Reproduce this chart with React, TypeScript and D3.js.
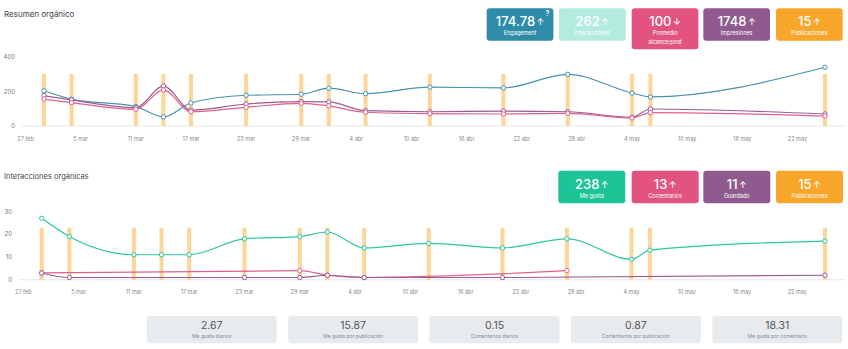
import React from "react";
import * as d3 from "d3";

const pubDates = ["2023-03-01","2023-03-04","2023-03-11","2023-03-14","2023-03-17","2023-03-23","2023-03-29","2023-04-01","2023-04-05","2023-04-12","2023-04-20","2023-04-27","2023-05-04","2023-05-06","2023-05-25"];
const tickDates = ["2023-02-27","2023-03-05","2023-03-11","2023-03-17","2023-03-23","2023-03-29","2023-04-04","2023-04-10","2023-04-16","2023-04-22","2023-04-28","2023-05-04","2023-05-10","2023-05-16","2023-05-22"];
const monthNames = ["ene","feb","mar","abr","may","jun","jul","ago","sep","oct","nov","dic"];

const engagement = [205,156,113,53,134,179,185,220,188,226,222,301,192,169,342];
const impresiones = [177,152,107,233,93,128,142,140,89,83,87,83,51,99,70];
const alcance = [157,136,97,210,83,109,132,117,80,72,70,74,47,78,58];
const publicaciones = [1,1,1,1,1,1,1,1,1,1,1,1,1,1,1];

const meGusta = [27,19,11,11,11,18,19,21,14,16,14,18,9,13,17];
const comentarios: (number|null)[] = [3,null,null,null,null,null,4,2,1,null,null,4,null,null,null];
const guardado: (number|null)[] = [3,1,null,null,null,1,1,2,1,null,1,null,null,null,2];

const topTicks = [0,200,400];
const botTicks = [0,10,20,30];

const topKpis = [
  { value: "174.78", arrow: "↑", label: ["Engagement"], color: "#2e8ca8", q: true },
  { value: "262", arrow: "↑", label: ["Interacciones"], color: "#b3ebdf", q: false },
  { value: "100", arrow: "↓", label: ["Promedio", "alcance/post"], color: "#e2537f", q: false },
  { value: "1748", arrow: "↑", label: ["Impresiones"], color: "#8f5a8d", q: false },
  { value: "15", arrow: "↑", label: ["Publicaciones"], color: "#f8a62a", q: false },
];
const botKpis = [
  { value: "238", arrow: "↑", label: ["Me gusta"], color: "#1dc498" },
  { value: "13", arrow: "↑", label: ["Comentarios"], color: "#e2537f" },
  { value: "11", arrow: "↑", label: ["Guardado"], color: "#8f5a8d" },
  { value: "15", arrow: "↑", label: ["Publicaciones"], color: "#f8a62a" },
];
const statValues = ["2.67","15.87","0.15","0.87","18.31"];
const statLabels = ["Me gusta diarios","Me gusta por publicación","Comentarios diarios","Comentarios por publicación","Me gusta por comentario"];

const parse = d3.timeParse("%Y-%m-%d");
const dates = pubDates.map((d) => parse(d) as Date);
const ticks = tickDates.map((d) => parse(d) as Date);
const fmt = (d: Date) => `${d.getDate()} ${monthNames[d.getMonth()]}`;

const FONT = "Inter, 'Open Sans', sans-serif";

function Chart({ x, y, yb, ticksY, series, tickX, labelY, axisLeft, labelYAnchor }: any) {
  const y0 = y(0);
  const lineGen = (vals: (number|null)[]) => {
    const pts = vals.map((v, i) => (v == null ? null : [x(dates[i]), y(v)])).filter(Boolean) as [number, number][];
    return d3.line().curve(d3.curveMonotoneX)(pts) || "";
  };
  return (
    <g>
      <line x1={axisLeft} x2={845} y1={y0} y2={y0} stroke="#e6e6e6" strokeWidth={1} />
      {ticksY.map((t: number) => (
        <text key={t} x={labelYAnchor} y={y(t) + 2} fontSize={6} fill="#777" textAnchor="end" fontFamily={FONT}>{t}</text>
      ))}
      {tickX.map((d: Date, i: number) => (
        <text key={i} x={x(d)} y={labelY} fontSize={5.5} fill="#888" textAnchor="middle" fontFamily={FONT}>{fmt(d)}</text>
      ))}
      {publicaciones.map((v, i) => (
        <rect key={i} x={x(dates[i]) - 2} width={4} y={yb(v)} height={y0 - yb(v)} fill="#fdd49a" />
      ))}
      {series.map((s: any, si: number) => (
        <g key={si}>
          <path d={lineGen(s.values)} fill="none" stroke={s.color} strokeWidth={1.2} />
          {s.values.map((v: number|null, i: number) => v == null ? null : (
            <circle key={i} cx={x(dates[i])} cy={y(v)} r={2.2} fill="#fff" stroke={s.color} strokeWidth={1} />
          ))}
        </g>
      ))}
    </g>
  );
}

function Kpi({ k, x, y, w, h }: any) {
  const cx = x + w / 2;
  return (
    <g>
      <rect x={x} y={y} width={w} height={h} rx={3} fill={k.color} />
      <text x={cx} y={y + 18} textAnchor="middle" fill="#fff" fontFamily={FONT} fontSize={13} fontWeight={500}>
        {k.value}<tspan fontSize={9} dx={1.5} dy={-1}>{k.arrow}</tspan>
      </text>
      {k.label.map((l: string, i: number) => (
        <text key={i} x={cx} y={y + 27 + i * 9} textAnchor="middle" fill="#fff" fontFamily={FONT} fontSize={5.5}>{l}</text>
      ))}
      {k.q ? <text x={x + w - 8} y={y + 8} fill="#fff" fontFamily={FONT} fontSize={7} fontWeight={600}>?</text> : null}
    </g>
  );
}

export default function App() {
  const xTop = d3.scaleTime().domain([parse("2023-02-27") as Date, parse("2023-05-25") as Date]).range([25.6, 825]);
  const xBot = d3.scaleTime().domain([parse("2023-02-27") as Date, parse("2023-05-25") as Date]).range([23.3, 825]);
  const yTop = d3.scaleLinear().domain([0, 400]).range([126, 57.3]);
  const ybTop = d3.scaleLinear().domain([0, 1]).range([126, 74]);
  const yBot = d3.scaleLinear().domain([0, 30]).range([279.8, 211.5]);
  const ybBot = d3.scaleLinear().domain([0, 1]).range([279.8, 227.7]);

  const topX = [486.7, 559, 631.7, 703.3, 776];
  const botX = [558.3, 631.7, 703.3, 776];

  return (
    <svg width={848} height={349} style={{ position: "absolute", left: 0, top: 0, background: "#fff" }}>
      <text x={4} y={17} fontSize={8} fill="#444" fontFamily={FONT}>Resumen orgánico</text>
      {topKpis.map((k, i) => (
        <Kpi key={i} k={k} x={topX[i]} y={8.3} w={66.7} h={k.label.length > 1 ? 41 : 32.4} />
      ))}
      <Chart x={xTop} y={yTop} yb={ybTop} ticksY={topTicks} tickX={ticks} labelY={141} axisLeft={22} labelYAnchor={15}
        series={[
          { values: engagement, color: "#4893ab" },
          { values: impresiones, color: "#9a5c93" },
          { values: alcance, color: "#e0608a" },
        ]} />

      <text x={4} y={179} fontSize={7.5} fill="#444" fontFamily={FONT}>Interacciones orgánicas</text>
      {botKpis.map((k, i) => (
        <Kpi key={i} k={k} x={botX[i]} y={170.7} w={67} h={32.6} />
      ))}
      <Chart x={xBot} y={yBot} yb={ybBot} ticksY={botTicks} tickX={ticks} labelY={294} axisLeft={19} labelYAnchor={12}
        series={[
          { values: meGusta, color: "#2ec79b" },
          { values: comentarios, color: "#e0608a" },
          { values: guardado, color: "#9a5c93" },
        ]} />

      {statValues.map((v, i) => {
        const bx = 146.7 + i * 141.4;
        return (
          <g key={i}>
            <rect x={bx} y={316} width={130} height={27.3} rx={3} fill="#e8ebee" />
            <text x={bx + 65} y={329} textAnchor="middle" fontSize={10.5} fill="#555" fontFamily={FONT}>{v}</text>
            <text x={bx + 65} y={337.5} textAnchor="middle" fontSize={5} fill="#888" fontFamily={FONT}>{statLabels[i]}</text>
          </g>
        );
      })}
    </svg>
  );
}
